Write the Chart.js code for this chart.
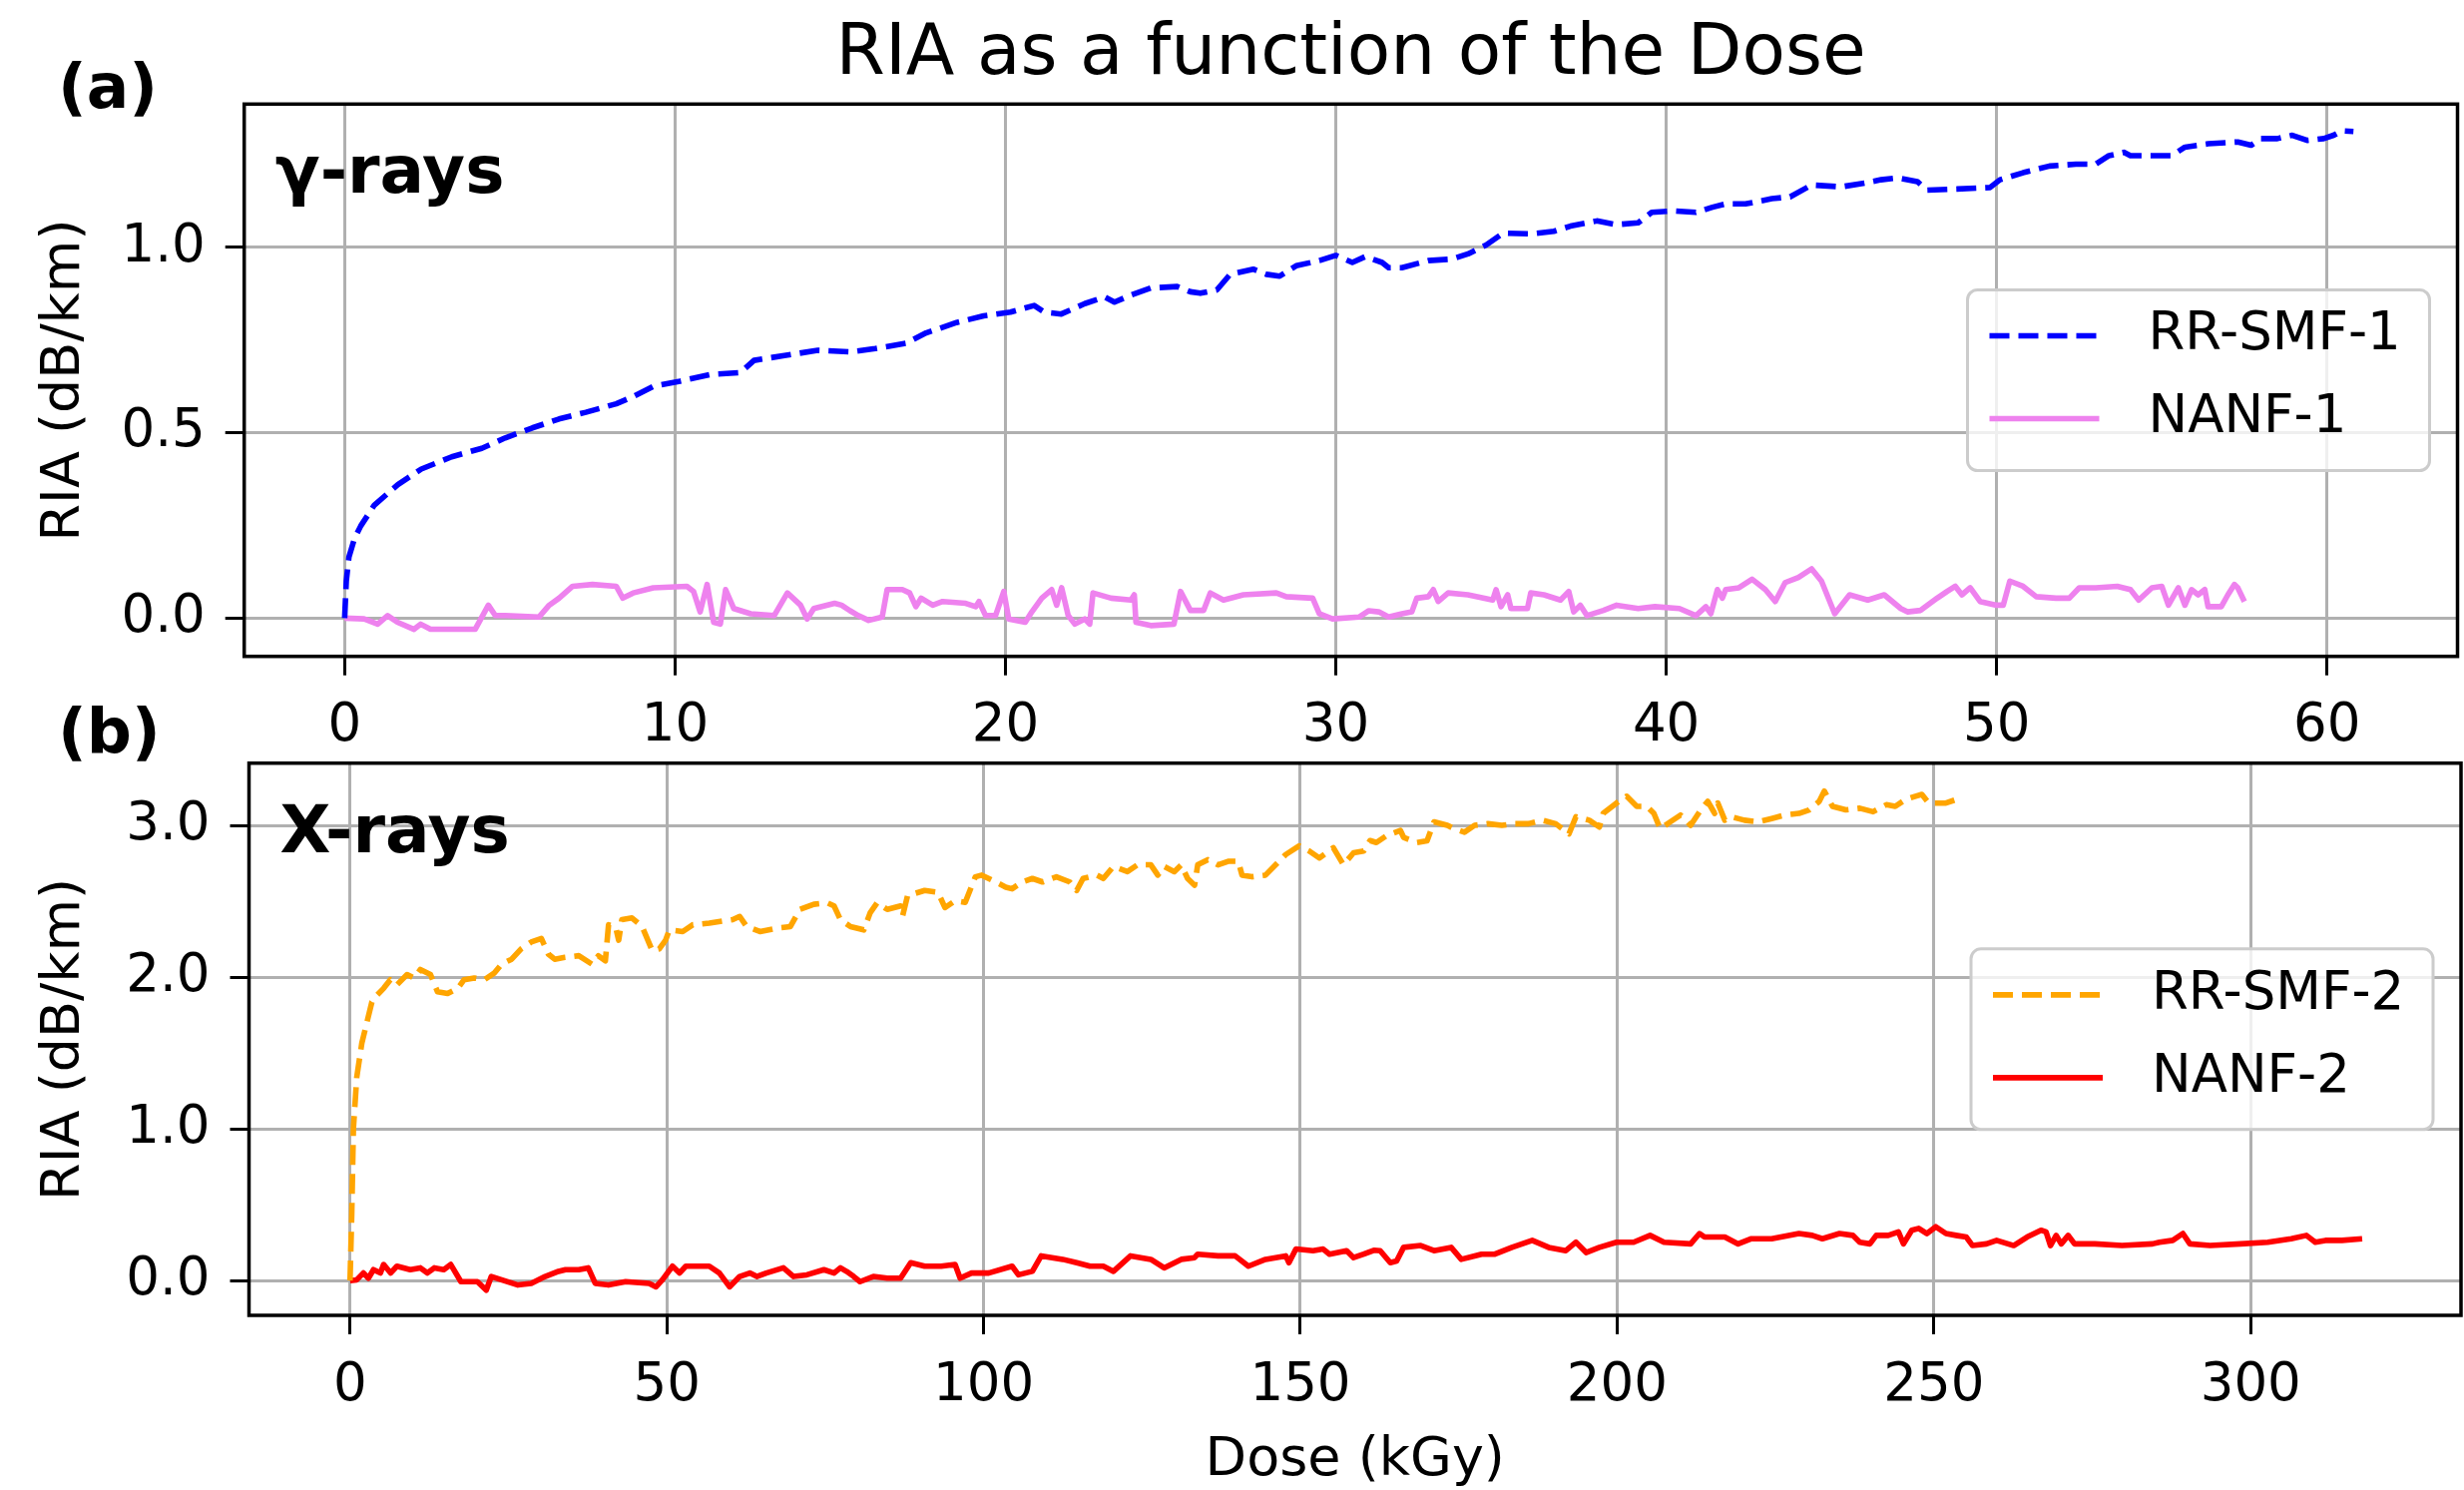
<!DOCTYPE html>
<html>
<head>
<meta charset="utf-8">
<title>RIA as a function of the Dose</title>
<script src="https://cdn.jsdelivr.net/npm/chart.js@4.4.1/dist/chart.umd.min.js"></script>
<style>
  html, body { margin: 0; padding: 0; background: #fff; }
  #page { position: relative; width: 2469px; height: 1493px; overflow: hidden; background: #fff; }
  canvas { position: absolute; left: 0; }
  #gammaChart { top: 0; }
  #xrayChart { top: 700px; }
</style>
</head>
<body>
<div id="page">
  <canvas id="gammaChart" width="2469" height="760"></canvas>
  <canvas id="xrayChart" width="2469" height="793"></canvas>
</div>
<script>
// values, [dose (kGy), RIA (dB/km)]
const smf1Gamma = [[0,0],[0.05,0.10],[0.13,0.165],[0.3,0.215],[0.49,0.249],[0.9,0.305],[1.61,0.36],[2.32,0.402],[3.24,0.435],[4.15,0.458],[4.86,0.486],[5.68,0.513],[6.49,0.537],[7.3,0.555],[8.22,0.578],[8.73,0.597],[9.34,0.625],[10.15,0.639],[11.07,0.657],[11.98,0.662],[12.39,0.695],[13.31,0.708],[14.32,0.722],[15.34,0.718],[16.06,0.727],[16.98,0.741],[17.6,0.769],[18.52,0.797],[19.34,0.815],[20.15,0.825],[20.87,0.843],[21.18,0.825],[21.69,0.82],[22.4,0.848],[23.0,0.866],[23.3,0.852],[23.8,0.871],[24.4,0.89],[25.2,0.894],[25.6,0.88],[25.9,0.876],[26.4,0.885],[26.8,0.927],[27.5,0.941],[27.9,0.927],[28.3,0.922],[28.8,0.95],[29.5,0.964],[30.0,0.978],[30.5,0.959],[30.9,0.975],[31.4,0.959],[31.6,0.945],[32.0,0.945],[32.8,0.964],[33.5,0.968],[34.0,0.982],[34.55,1.006],[35.06,1.038],[35.9,1.036],[36.6,1.043],[37.1,1.057],[37.9,1.071],[38.5,1.061],[39.15,1.066],[39.56,1.094],[40.2,1.098],[40.9,1.094],[41.4,1.108],[41.8,1.117],[42.4,1.117],[43.2,1.131],[43.75,1.136],[44.4,1.168],[45.3,1.163],[46.0,1.173],[46.5,1.182],[47.0,1.187],[47.6,1.177],[47.9,1.154],[48.8,1.157],[49.8,1.161],[50.1,1.182],[50.8,1.201],[51.6,1.219],[52.4,1.224],[53.0,1.224],[53.4,1.247],[53.85,1.256],[54.05,1.247],[54.7,1.247],[55.3,1.247],[55.7,1.27],[56.4,1.279],[57.3,1.284],[57.7,1.275],[58.0,1.293],[58.5,1.293],[58.95,1.302],[59.4,1.288],[59.9,1.293],[60.2,1.302],[60.45,1.314],[60.8,1.312]];

const nanf1Gamma = [[0,0],[0.59,-0.002],[1.0,-0.016],[1.3,0.007],[1.6,-0.011],[2.1,-0.03],[2.3,-0.016],[2.6,-0.03],[3.95,-0.03],[4.35,0.035],[4.56,0.007],[4.86,0.007],[5.88,0.003],[6.19,0.035],[6.49,0.054],[6.9,0.086],[7.5,0.091],[8.22,0.086],[8.42,0.054],[8.73,0.068],[9.34,0.082],[10.36,0.086],[10.56,0.072],[10.76,0.017],[10.97,0.091],[11.17,-0.011],[11.37,-0.016],[11.53,0.077],[11.78,0.026],[12.29,0.012],[13.0,0.007],[13.4,0.068],[13.8,0.035],[14.0,-0.002],[14.2,0.026],[14.83,0.04],[15.04,0.035],[15.3,0.02],[15.55,0.007],[15.86,-0.006],[16.27,0.003],[16.42,0.077],[16.88,0.077],[17.1,0.068],[17.29,0.031],[17.45,0.054],[17.8,0.035],[18.1,0.045],[18.8,0.04],[19.1,0.031],[19.2,0.045],[19.4,0.007],[19.7,0.007],[19.95,0.072],[20.1,-0.002],[20.6,-0.011],[20.8,0.017],[21.1,0.054],[21.4,0.077],[21.55,0.035],[21.7,0.082],[21.9,0.007],[22.1,-0.016],[22.4,-0.002],[22.55,-0.016],[22.65,0.068],[23.2,0.054],[23.8,0.049],[23.9,0.063],[23.95,-0.011],[24.4,-0.02],[25.1,-0.016],[25.3,0.072],[25.6,0.021],[26.0,0.021],[26.2,0.068],[26.6,0.049],[27.2,0.063],[28.2,0.068],[28.5,0.058],[29.3,0.054],[29.5,0.012],[29.9,-0.002],[30.7,0.003],[31.0,0.02],[31.3,0.017],[31.6,0.003],[32.0,0.012],[32.3,0.017],[32.45,0.054],[32.8,0.058],[32.95,0.077],[33.1,0.045],[33.4,0.068],[34.0,0.063],[34.75,0.049],[34.85,0.077],[35.0,0.031],[35.2,0.063],[35.3,0.026],[35.8,0.026],[35.9,0.068],[36.3,0.063],[36.8,0.049],[37.05,0.072],[37.2,0.017],[37.4,0.035],[37.6,0.007],[38.1,0.021],[38.5,0.035],[39.15,0.026],[39.66,0.031],[40.4,0.026],[40.9,0.007],[41.2,0.031],[41.35,0.012],[41.55,0.077],[41.7,0.054],[41.8,0.077],[42.2,0.082],[42.6,0.105],[43.0,0.077],[43.3,0.045],[43.6,0.096],[44.0,0.11],[44.4,0.133],[44.7,0.1],[45.1,0.012],[45.55,0.063],[46.1,0.049],[46.6,0.063],[47.1,0.026],[47.3,0.017],[47.7,0.021],[48.2,0.054],[48.5,0.072],[48.75,0.086],[48.95,0.063],[49.2,0.082],[49.5,0.045],[50.0,0.035],[50.2,0.035],[50.4,0.1],[50.8,0.086],[51.2,0.058],[51.8,0.054],[52.2,0.054],[52.5,0.082],[53.0,0.082],[53.65,0.086],[54.05,0.077],[54.3,0.049],[54.7,0.082],[55.0,0.086],[55.2,0.035],[55.5,0.082],[55.7,0.035],[55.9,0.077],[56.1,0.063],[56.3,0.077],[56.4,0.031],[56.8,0.031],[57.0,0.063],[57.2,0.091],[57.3,0.082],[57.5,0.045]];

const smf2Xray = [[0,0],[0.27,0.434],[0.53,1.0],[1.06,1.34],[1.86,1.565],[2.65,1.7],[3.45,1.836],[4.24,1.88],[5.3,1.926],[6.36,1.983],[7.4,1.949],[9.0,2.017],[10.1,1.994],[11.1,2.05],[12.7,2.017],[13.8,1.904],[15.4,1.892],[17.0,1.926],[18.0,1.983],[19.6,1.994],[21.2,1.983],[22.8,2.028],[23.9,2.085],[25.5,2.118],[27.0,2.186],[28.6,2.231],[30.2,2.254],[31.3,2.152],[32.3,2.118],[33.9,2.13],[36.1,2.141],[38.2,2.085],[39.2,2.141],[40.3,2.107],[40.8,2.345],[41.9,2.333],[42.4,2.243],[42.9,2.379],[44.5,2.39],[46.1,2.333],[47.7,2.175],[48.8,2.186],[49.8,2.243],[50.4,2.311],[52.5,2.3],[54.1,2.345],[56.7,2.356],[60.4,2.379],[61.5,2.4],[62.6,2.333],[64.7,2.3],[67.3,2.322],[69.5,2.333],[71.0,2.446],[73.2,2.48],[75.3,2.49],[76.4,2.469],[77.4,2.379],[79.0,2.333],[80.3,2.32],[81.1,2.311],[82.1,2.424],[83.2,2.49],[84.8,2.446],[86.9,2.469],[87.2,2.4],[88.0,2.537],[90.7,2.571],[92.8,2.559],[93.9,2.458],[95.5,2.503],[97.1,2.492],[98.7,2.661],[99.7,2.672],[101.9,2.627],[103.5,2.593],[104.5,2.582],[106.1,2.627],[107.7,2.65],[109.3,2.627],[111.5,2.661],[113.6,2.627],[114.7,2.571],[115.7,2.65],[117.9,2.672],[118.9,2.65],[120.5,2.729],[122.7,2.695],[124.3,2.74],[126.4,2.74],[127.5,2.672],[128.5,2.729],[130.1,2.695],[131.2,2.74],[132.2,2.65],[133.3,2.605],[133.8,2.74],[135.4,2.774],[137.0,2.74],[138.6,2.763],[140.2,2.763],[140.8,2.672],[142.4,2.661],[144.5,2.672],[146.1,2.74],[147.7,2.808],[149.8,2.865],[151.4,2.831],[153.0,2.785],[155.2,2.853],[156.8,2.74],[158.4,2.819],[160.0,2.831],[161.0,2.9],[162.0,2.887],[163.6,2.932],[165.8,2.966],[166.3,2.921],[168.4,2.887],[170.0,2.898],[171.1,3.023],[173.2,3.0],[174.3,2.978],[175.9,2.955],[177.5,3.0],[179.6,3.011],[181.8,3.0],[183.9,3.011],[186.0,3.011],[188.2,3.034],[190.3,3.011],[192.4,2.944],[193.5,3.057],[195.6,3.034],[197.2,2.989],[197.8,3.079],[199.9,3.147],[201.5,3.192],[203.1,3.125],[204.7,3.125],[205.8,3.079],[206.8,2.978],[208.4,3.023],[210.0,3.068],[211.6,3.0],[213.2,3.102],[214.3,3.158],[215.4,3.079],[215.9,3.147],[217.0,3.034],[218.0,3.057],[220.1,3.034],[222.3,3.023],[224.4,3.045],[226.5,3.068],[228.7,3.079],[230.3,3.102],[231.9,3.158],[232.7,3.226],[234.0,3.125],[236.1,3.102],[238.3,3.113],[240.4,3.09],[242.5,3.136],[243.9,3.125],[245.5,3.17],[247.1,3.192],[248.1,3.204],[249.2,3.147],[250.3,3.147],[251.9,3.147],[253.5,3.17],[254.3,3.158]];

const nanf2Xray = [[0,0],[1.06,0.005],[2.1,0.05],[2.9,0.016],[3.7,0.072],[4.8,0.05],[5.3,0.106],[6.4,0.05],[7.4,0.095],[9.5,0.072],[11.1,0.084],[12.2,0.05],[13.3,0.084],[14.8,0.072],[15.9,0.106],[17.5,-0.007],[20.1,-0.007],[21.5,-0.063],[22.3,0.027],[23.9,0.005],[26.5,-0.029],[28.6,-0.018],[30.8,0.027],[32.9,0.061],[34.0,0.072],[36.1,0.072],[37.6,0.084],[38.7,-0.018],[40.8,-0.029],[43.5,-0.007],[47.2,-0.018],[48.3,-0.041],[49.3,0.005],[50.9,0.095],[52.0,0.05],[53.0,0.095],[56.7,0.095],[58.3,0.05],[59.9,-0.041],[61.5,0.027],[63.1,0.05],[64.2,0.027],[65.7,0.05],[68.4,0.084],[70.0,0.027],[72.1,0.038],[74.8,0.072],[76.4,0.05],[77.4,0.084],[78.4,0.06],[79.5,0.027],[80.5,-0.007],[82.6,0.027],[84.8,0.016],[86.9,0.016],[88.5,0.118],[90.7,0.095],[93.3,0.095],[95.5,0.106],[96.3,0.016],[98.1,0.05],[100.8,0.05],[104.5,0.095],[105.5,0.038],[107.7,0.061],[109.1,0.163],[112.5,0.14],[114.7,0.118],[116.8,0.095],[118.9,0.095],[120.5,0.061],[123.2,0.163],[126.4,0.14],[128.5,0.084],[131.2,0.14],[133.3,0.151],[133.8,0.174],[137.0,0.163],[139.7,0.163],[141.8,0.095],[144.5,0.14],[147.7,0.163],[148.2,0.118],[149.3,0.208],[152.0,0.197],[153.6,0.208],[154.6,0.174],[157.3,0.197],[158.4,0.151],[160.0,0.174],[161.6,0.2],[162.6,0.197],[164.2,0.118],[165.2,0.129],[166.3,0.219],[169.0,0.231],[171.1,0.197],[173.8,0.219],[175.4,0.14],[178.6,0.174],[180.7,0.174],[183.4,0.219],[186.6,0.265],[189.2,0.219],[191.9,0.197],[193.5,0.253],[195.1,0.185],[197.2,0.219],[199.9,0.253],[202.6,0.253],[205.2,0.298],[207.4,0.253],[211.6,0.242],[213.0,0.31],[213.8,0.287],[217.0,0.287],[219.1,0.242],[221.2,0.276],[224.4,0.276],[228.7,0.31],[230.8,0.298],[232.4,0.276],[235.1,0.31],[237.2,0.298],[238.3,0.253],[239.9,0.242],[240.9,0.298],[242.8,0.298],[244.4,0.321],[245.2,0.242],[246.5,0.332],[247.6,0.344],[248.9,0.31],[250.3,0.355],[251.9,0.31],[253.5,0.298],[255.1,0.287],[256.1,0.231],[258.3,0.242],[259.9,0.265],[262.6,0.231],[264.7,0.287],[266.9,0.332],[267.7,0.321],[268.4,0.231],[269.3,0.298],[270.1,0.242],[271.2,0.298],[272.2,0.242],[275.4,0.242],[279.7,0.231],[284.5,0.242],[285.6,0.253],[287.7,0.265],[289.3,0.31],[290.4,0.242],[293.6,0.231],[298.4,0.242],[302.7,0.253],[306.4,0.276],[308.8,0.298],[310.2,0.253],[311.8,0.265],[314.4,0.265],[317.6,0.276]];

const gammaDoseTicks = [0, 10, 20, 30, 40, 50, 60];
const gammaRiaTicks = [0, 0.5, 1.0];
const xrayDoseTicks = [0, 50, 100, 150, 200, 250, 300];
const xrayRiaTicks = [0, 1.0, 2.0, 3.0];

const FONT = 'DejaVu Sans';
const DASH = [20, 9];
const LINE_W = 5.6;

function toPoints(pairs) {
    return pairs.map(p => ({ x: p[0], y: p[1] }));
}

// black box round the plot area, drawn over the lines like matplotlib spines
const framePlugin = {
    id: 'frame',
    afterDatasetsDraw(chart) {
        const { ctx, chartArea: a } = chart;
        ctx.save();
        ctx.strokeStyle = '#000';
        ctx.lineWidth = 3.5;
        ctx.strokeRect(a.left, a.top, a.right - a.left, a.bottom - a.top);
        ctx.restore();
    }
};

// legend box at the centre right of the plot area
const legendBoxPlugin = {
    id: 'legendBox',
    afterDraw(chart) {
        const { ctx, chartArea: a } = chart;
        const w = 463, h = 181;
        const left = a.right - 28 - w;
        const top = (a.top + a.bottom) / 2 - h / 2;
        ctx.save();
        ctx.beginPath();
        ctx.roundRect(left, top, w, h, 10);
        ctx.fillStyle = 'rgba(255,255,255,0.8)';
        ctx.fill();
        ctx.strokeStyle = '#cccccc';
        ctx.lineWidth = 3;
        ctx.stroke();
        chart.data.datasets.forEach((ds, i) => {
            const y = top + 46 + i * 83;
            ctx.beginPath();
            ctx.setLineDash(ds.borderDash || []);
            ctx.strokeStyle = ds.borderColor;
            ctx.lineWidth = ds.borderWidth;
            ctx.moveTo(left + 22, y);
            ctx.lineTo(left + 132, y);
            ctx.stroke();
            ctx.setLineDash([]);
            ctx.fillStyle = '#000';
            ctx.font = '53px "' + FONT + '"';
            ctx.textBaseline = 'middle';
            ctx.textAlign = 'left';
            ctx.fillText(ds.label, left + 181, y);
        });
        ctx.restore();
    }
};

// "(a)" / "(b)" tags and the radiation name inside the plot
const panelTextPlugin = {
    id: 'panelText',
    afterDraw(chart, args, opts) {
        const { ctx, chartArea: a } = chart;
        ctx.save();
        ctx.fillStyle = '#000';
        ctx.textAlign = 'left';
        ctx.textBaseline = 'alphabetic';
        ctx.font = 'bold 63px "' + FONT + '"';
        ctx.fillText(opts.tag, 58, opts.tagBaseline);
        ctx.font = 'bold 66px "' + FONT + '"';
        ctx.fillText(opts.label, a.left + 31, a.top + 89);
        ctx.restore();
    }
};

function makeScales(cfg) {
    const tickFont = { family: FONT, size: 53 };
    const labelFont = { family: FONT, size: 54, lineHeight: 1.0 };
    const grid = { color: '#b0b0b0', lineWidth: 3, tickColor: '#000', tickWidth: 3, tickLength: 19 };
    return {
        x: {
            type: 'linear',
            min: cfg.xMin,
            max: cfg.xMax,
            afterBuildTicks: s => { s.ticks = cfg.xTicks.map(v => ({ value: v })); },
            afterFit: s => { s.height = cfg.xHeight; },
            grid: grid,
            border: { display: false },
            ticks: { font: tickFont, color: '#000', padding: 20, maxRotation: 0, autoSkip: false, callback: v => String(v) },
            title: cfg.xTitle ? { display: true, text: cfg.xTitle, font: labelFont, color: '#000', padding: { top: 0, bottom: 2.5 } } : { display: false }
        },
        y: {
            type: 'linear',
            min: cfg.yMin,
            max: cfg.yMax,
            afterBuildTicks: s => { s.ticks = cfg.yTicks.map(v => ({ value: v })); },
            afterFit: s => { s.width = cfg.yWidth; },
            grid: grid,
            border: { display: false },
            ticks: { font: tickFont, color: '#000', padding: 20, autoSkip: false, callback: v => v.toFixed(1) },
            title: { display: true, text: 'RIA (dB/km)', font: labelFont, color: '#000', padding: { top: 38, bottom: 0 } }
        }
    };
}

function lineSet(label, pairs, color, dashed) {
    return {
        label: label,
        data: toPoints(pairs),
        borderColor: color,
        backgroundColor: color,
        borderWidth: LINE_W,
        borderDash: dashed ? DASH : [],
        borderJoinStyle: 'round',
        pointRadius: 0,
        tension: 0,
        fill: false
    };
}

new Chart(document.getElementById('gammaChart'), {
    type: 'line',
    data: {
        datasets: [
            lineSet('RR-SMF-1', smf1Gamma, 'blue', true),
            lineSet('NANF-1', nanf1Gamma, 'violet', false)
        ]
    },
    options: {
        responsive: false,
        animation: false,
        devicePixelRatio: 1,
        events: [],
        layout: { padding: { left: 0, right: 6.5, top: 0, bottom: 0 } },
        plugins: {
            legend: { display: false },
            tooltip: { enabled: false },
            title: {
                display: true,
                text: 'RIA as a function of the Dose',
                fullSize: false,
                color: '#000',
                font: { family: FONT, size: 71, weight: 'normal', lineHeight: 1.2 },
                padding: { top: 13, bottom: 6.1 }
            },
            panelText: { tag: '(a)', tagBaseline: 108, label: 'γ-rays' }
        },
        scales: makeScales({
            xMin: -3.04, xMax: 63.95, xTicks: gammaDoseTicks, xHeight: 102.3,
            yMin: -0.103, yMax: 1.386, yTicks: gammaRiaTicks, yWidth: 244.7
        })
    },
    plugins: [framePlugin, legendBoxPlugin, panelTextPlugin]
});

new Chart(document.getElementById('xrayChart'), {
    type: 'line',
    data: {
        datasets: [
            lineSet('RR-SMF-2', smf2Xray, 'orange', true),
            lineSet('NANF-2', nanf2Xray, 'red', false)
        ]
    },
    options: {
        responsive: false,
        animation: false,
        devicePixelRatio: 1,
        events: [],
        layout: { padding: { left: 0, right: 3, top: 64.7, bottom: 0 } },
        plugins: {
            legend: { display: false },
            tooltip: { enabled: false },
            title: { display: false },
            panelText: { tag: '(b)', tagBaseline: 54, label: 'X-rays' }
        },
        scales: makeScales({
            xMin: -15.95, xMax: 333.2, xTicks: xrayDoseTicks, xHeight: 175, xTitle: 'Dose (kGy)',
            yMin: -0.229, yMax: 3.41, yTicks: xrayRiaTicks, yWidth: 249.5
        })
    },
    plugins: [framePlugin, legendBoxPlugin, panelTextPlugin]
});
</script>
</body>
</html>
